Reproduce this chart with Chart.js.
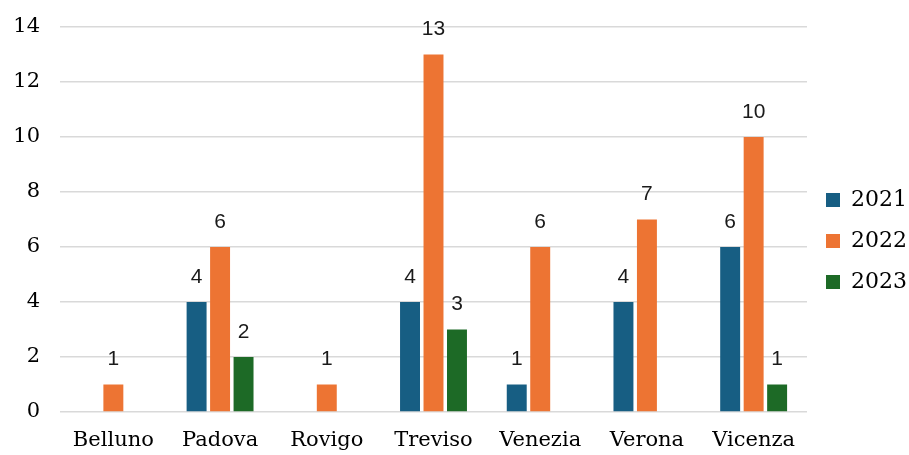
<!DOCTYPE html>
<html>
<head>
<meta charset="utf-8">
<script src="https://cdn.jsdelivr.net/npm/chart.js@4"></script>
<style>
  html, body { margin: 0; padding: 0; background: #fff; }
  #wrap { width: 909px; height: 455px; }
</style>
</head>
<body>
<div id="wrap"><canvas id="chart"></canvas></div>
<script>
// categories + series
const Provinces = ['Belluno', 'Padova', 'Rovigo', 'Treviso', 'Venezia', 'Verona', 'Vicenza'];
const Y2021 = [null, 4, null, 4, 1, 4, 6];
const Y2022 = [1, 6, 1, 13, 6, 7, 10];
const Y2023 = [null, 2, null, 3, null, null, 1];

const serif = '"DejaVu Serif", "Liberation Serif", serif';
const sans = '"Liberation Sans", Arial, sans-serif';

// draws the value over each bar (no datalabels plugin here)
const valueLabels = {
    id: 'valueLabels',
    afterDatasetsDraw(chart) {
        const c = chart.ctx;
        c.save();
        c.font = '21px ' + sans;
        c.fillStyle = '#1a1a1a';
        c.textAlign = 'center';
        c.textBaseline = 'middle';
        chart.data.datasets.forEach((ds, i) => {
            chart.getDatasetMeta(i).data.forEach((bar, j) => {
                if (ds.data[j] == null) return;
                c.fillText(ds.data[j], bar.x, bar.y - 25);
            });
        });
        c.restore();
    }
};

const data = {
    labels: Provinces,
    datasets: [{
        label: '2021',
        data: Y2021,
        backgroundColor: '#175E83',
    }, {
        label: '2022',
        data: Y2022,
        backgroundColor: '#ED7433',
    }, {
        label: '2023',
        data: Y2023,
        backgroundColor: '#1D6A26',
    }]
};

const config = {
    type: 'bar',
    data: data,
    options: {
        responsive: true,
        maintainAspectRatio: false,
        animation: false,
        categoryPercentage: 0.66,
        barPercentage: 0.85,
        layout: { padding: { top: 27, right: 0, left: 4, bottom: 0 } },
        plugins: {
            legend: {
                position: 'right',
                maxWidth: 102,
                labels: {
                    font: { family: serif, size: 22 },
                    color: '#000',
                    boxWidth: 14,
                    boxHeight: 14,
                    padding: 19,
                }
            },
            tooltip: { enabled: false }
        },
        scales: {
            x: {
                grid: { display: false, drawTicks: false },
                border: { display: false },
                ticks: { padding: 16, font: { family: serif, size: 21 }, color: '#000' },
                afterFit: (axis) => { axis.height = 43; }
            },
            y: {
                min: 0,
                max: 14,
                border: { display: false },
                grid: { color: '#d9d9d9', lineWidth: 1.5, drawTicks: false },
                ticks: { stepSize: 2, padding: 20, font: { family: serif, size: 21 }, color: '#000' },
                afterFit: (axis) => {
                    axis.width = 56;
                    axis.paddingTop = 0;
                    axis.paddingBottom = 0;
                }
            }
        }
    },
    plugins: [valueLabels]
};

let ProvChart = new Chart(document.getElementById('chart'), config);
</script>
</body>
</html>
